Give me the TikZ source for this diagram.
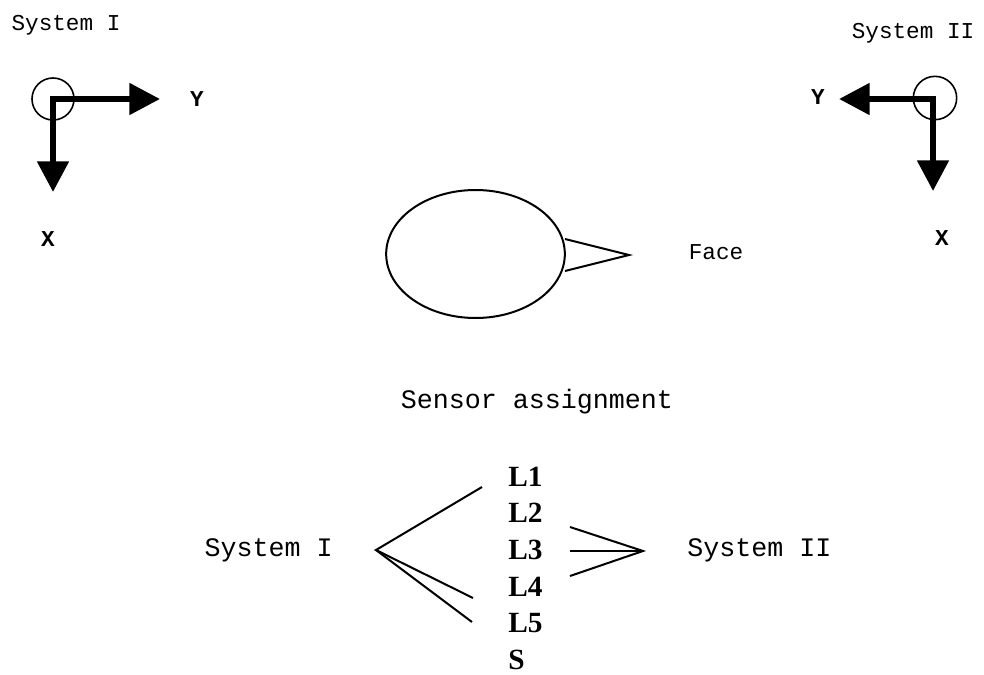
\documentclass[tikz,border=0pt]{standalone}
\usepackage{fontspec}
\setmonofont{Liberation Mono}
\newfontfamily\lblserif{Liberation Serif}
\usetikzlibrary{arrows.meta,shapes.geometric}
\begin{document}
\begin{tikzpicture}[x=0.75pt,y=-0.75pt,
  axis/.style={line width=4.5pt,line join=miter,
    {Triangle[length=23pt,width=23pt]}-{Triangle[length=23pt,width=23pt]}},
  thin/.style={line width=1.5pt},
  toplbl/.style={font=\ttfamily\fontsize{17}{20}\selectfont,inner sep=0pt},
  axlbl/.style={font=\ttfamily\bfseries\fontsize{17}{20}\selectfont,inner sep=0pt},
  biglbl/.style={font=\ttfamily\fontsize{20}{24}\selectfont,inner sep=0pt},
  sens/.style={font=\lblserif\bfseries\fontsize{22}{24}\selectfont,inner sep=0pt,anchor=west}]
\useasboundingbox (0,0) rectangle (984,674);
% System I frame
\node[toplbl] (s1) at (66,25) {System I};
\node[circle,draw,line width=1.2pt,minimum size=31.5pt,inner sep=0pt] (c1) at (53,99) {};
\coordinate (o1) at (53,99);
\coordinate (y1) at (160,99);
\coordinate (x1) at (53,192);
\draw[axis] (y1) -- (o1) -- (x1);
\node[axlbl] (ly1) at (197,99) {Y};
\node[axlbl] (lx1) at (48,239) {X};
% System II frame
\node[toplbl] (s2) at (913,33) {System II};
\node[circle,draw,line width=1.2pt,minimum size=32.5pt,inner sep=0pt] (c2) at (935,98) {};
\coordinate (o2) at (933,99);
\coordinate (y2) at (839,99);
\coordinate (x2) at (933,191);
\draw[axis] (y2) -- (o2) -- (x2);
\node[axlbl] (ly2) at (818,97) {Y};
\node[axlbl] (lx2) at (942,238) {X};
% Face
\node[ellipse,draw,line width=1.5pt,minimum width=134pt,minimum height=96pt,inner sep=0pt] (face) at (475.5,254) {};
\coordinate (n1) at (565,239);
\coordinate (n2) at (565,271);
\coordinate (nt) at (629,255);
\draw[thin] (n1) -- (nt) -- (n2);
\node[toplbl] (facel) at (716,252) {Face};
% Sensor assignment
\node[biglbl] (title) at (537,402) {Sensor assignment};
\node[biglbl,anchor=east] (sys1) at (333,550) {System I};
\node[biglbl,anchor=west] (sys2) at (687,550) {System II};
\node[sens] (L1) at (508,477) {L1};
\node[sens] (L2) at (508,513) {L2};
\node[sens] (L3) at (508,550) {L3};
\node[sens] (L4) at (508,587) {L4};
\node[sens] (L5) at (508,623) {L5};
\node[sens] (S) at (508,660) {S};
\coordinate (v1) at (376,550);
\coordinate (a1) at (482,487);
\coordinate (a4) at (473,598);
\coordinate (a5) at (472,622);
\draw[thin] (a1) -- (v1) -- (a4);
\draw[thin] (v1) -- (a5);
\coordinate (v2) at (643,551);
\coordinate (b2) at (570,527);
\coordinate (b3) at (570,551);
\coordinate (b4) at (570,576);
\draw[thin] (b2) -- (v2) -- (b4);
\draw[thin] (b3) -- (v2);
\end{tikzpicture}
\end{document}
